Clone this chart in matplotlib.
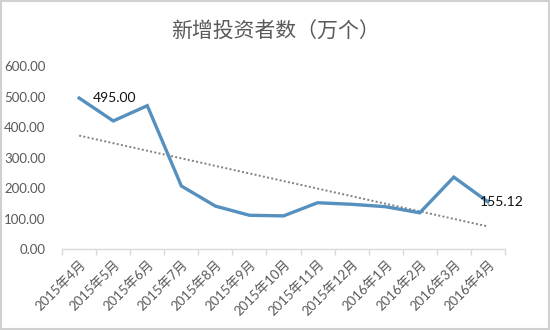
import matplotlib
matplotlib.use("Agg")
import matplotlib.pyplot as plt
import numpy as np

plt.rcParams['font.family'] = ['Lato', 'Noto Sans CJK SC', 'DejaVu Sans']

months = ["2015年4月", "2015年5月", "2015年6月", "2015年7月", "2015年8月",
          "2015年9月", "2015年10月", "2015年11月", "2015年12月", "2016年1月",
          "2016年2月", "2016年3月", "2016年4月"]
new_investors = [495.00, 420, 470, 207, 141, 111, 109, 152, 147, 139, 119, 236, 155.12]
y_ticks = [0, 100, 200, 300, 400, 500, 600]

fig = plt.figure(figsize=(5.5, 3.3), dpi=100)
fig.patch.set_facecolor("white")
fig.patches.append(plt.Rectangle((0.002, 0.003), 0.996, 0.994, transform=fig.transFigure,
                                 fill=False, edgecolor="#d0d0d0", linewidth=1.5))

ax = fig.add_axes([0.113, 0.245, 0.805, 0.555])
x = np.arange(len(months))

# linear trend line
coef = np.polyfit(x, new_investors, 1)
ax.plot(x, np.polyval(coef, x), linestyle=(0, (1, 1.2)), color="#808080", linewidth=1.4, zorder=2)

ax.plot(x, new_investors, color="#5690bf", linewidth=2.4, solid_joinstyle="miter", zorder=3)

ax.annotate(f"{new_investors[0]:.2f}", (x[0], new_investors[0]), xytext=(10, 0),
            textcoords="offset points", ha="left", va="center", fontsize=10, color="#111111")
ax.annotate(f"{new_investors[-1]:.2f}", (x[-1], new_investors[-1]), xytext=(-6, 0),
            textcoords="offset points", ha="left", va="center", fontsize=10, color="#111111")

ax.set_xlim(-0.5, len(months) - 0.5)
ax.set_ylim(0, 600)
ax.set_yticks(y_ticks)
ax.set_yticklabels([f"{v:.2f}" for v in y_ticks], fontsize=9.5, color="#595959")
ax.tick_params(axis="y", length=0, pad=12)

ax.set_xticks(x)
ax.set_xticklabels(months, rotation=45, ha="right", rotation_mode="anchor",
                   fontsize=9.5, color="#595959")
ax.set_xticks(np.arange(len(months) + 1) - 0.5, minor=True)
ax.tick_params(axis="x", which="major", length=0, pad=6)
ax.tick_params(axis="x", which="minor", length=4, color="#d9d9d9", width=1)

for side in ["top", "right", "left"]:
    ax.spines[side].set_visible(False)
ax.spines["bottom"].set_color("#d9d9d9")
ax.spines["bottom"].set_linewidth(1)

fig.text(0.5, 0.905, "新增投资者数（万个）", ha="center", va="center",
         fontsize=15, color="#595959", family=["Noto Sans CJK SC", "DejaVu Sans"])

fig.savefig("out.png", dpi=100)
